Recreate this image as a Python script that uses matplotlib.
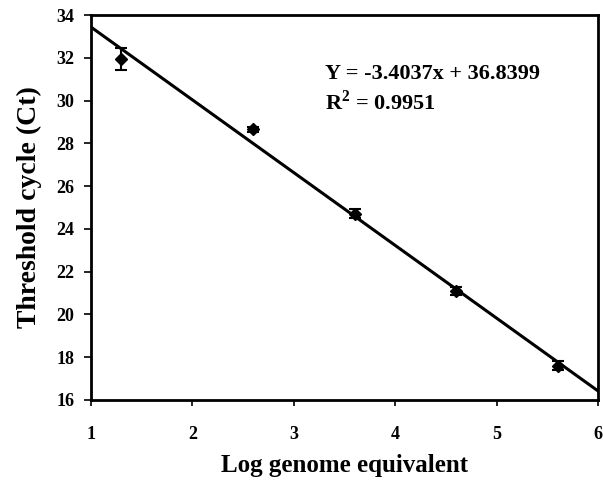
import matplotlib
matplotlib.use("Agg")
import matplotlib.pyplot as plt
import numpy as np

log_ge = [1.3, 2.6, 3.6, 4.6, 5.6]
ct = [31.95, 28.65, 24.72, 21.1, 17.6]
ct_err = [0.5, 0.1, 0.2, 0.2, 0.2]
slope, intercept = -3.4037, 36.8399
x_ticks = [1, 2, 3, 4, 5, 6]
y_ticks = [16, 18, 20, 22, 24, 26, 28, 30, 32, 34]

plt.rcParams['font.family'] = ['Liberation Serif', 'DejaVu Serif']
plt.rcParams['font.weight'] = 'bold'
plt.rcParams['mathtext.fontset'] = 'custom'
plt.rcParams['mathtext.rm'] = 'Liberation Serif:bold'
plt.rcParams['mathtext.bf'] = 'Liberation Serif:bold'

fig = plt.figure(figsize=(6.03, 4.86), dpi=100)
ax = fig.add_axes([0.151, 0.177, 0.841, 0.792])

xl = np.array([1, 6])
ax.plot(xl, slope * xl + intercept, color='black', lw=2.2)
ax.errorbar(log_ge, ct, yerr=ct_err, fmt='D', color='black', ms=6,
            capsize=4, elinewidth=1.5, capthick=1.5)

ax.set_xlim(1, 6)
ax.set_ylim(16, 34)
ax.set_xticks(x_ticks)
ax.set_yticks(y_ticks)
ax.tick_params(axis='y', direction='out', length=5, width=1.2, labelsize=13, pad=7)
ax.tick_params(axis='x', direction='out', length=4, width=1.2, labelsize=13, pad=15)
for lab in ax.get_xticklabels() + ax.get_yticklabels():
    lab.set_fontweight('bold')
for s in ax.spines.values():
    s.set_linewidth(2)

ax.set_xlabel('Log genome equivalent', fontsize=18, fontweight='bold', labelpad=8)
ax.set_ylabel('Threshold cycle (Ct)', fontsize=20, fontweight='bold', labelpad=10)

ax.text(3.31, 31.23, 'Y = -3.4037x + 36.8399', fontsize=16, fontweight='bold', va='center')
ax.text(3.31, 29.92, r'R$^{\mathbf{2}}$ = 0.9951', fontsize=16, fontweight='bold', va='center')

fig.savefig('out.png', dpi=100)
